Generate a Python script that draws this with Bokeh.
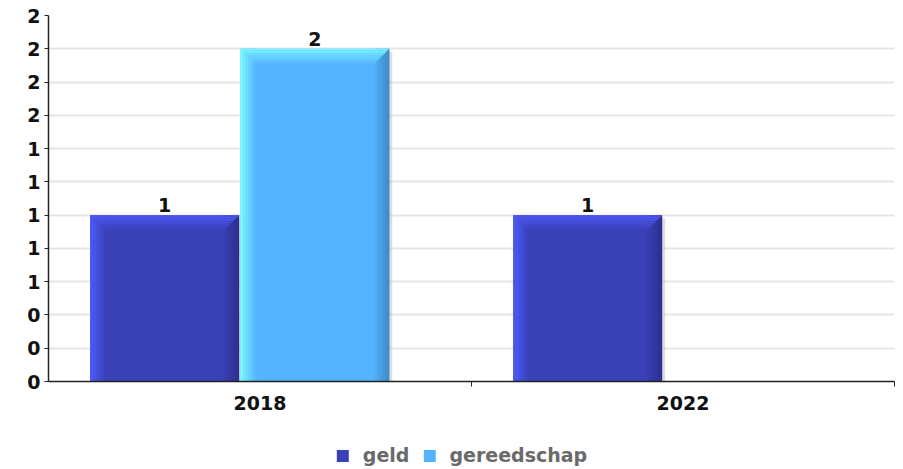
from bokeh.plotting import figure
from bokeh.layouts import column
from bokeh.models import (Range1d, FixedTicker, Legend, LegendItem, ColumnDataSource)
from bokeh.embed import file_html
from bokeh.resources import INLINE
from bokeh.core.properties import value

# ---- data ----
categories = ["2018", "2022"]
series = ["geld", "gereedschap"]
geld = [1, 1]
gereedschap = [2, 0]
y_ticks = [0, 0.2, 0.4, 0.6, 0.8, 1.0, 1.2, 1.4, 1.6, 1.8, 2.0, 2.2]
y_tick_labels = ["0", "0", "0", "1", "1", "1", "1", "1", "2", "2", "2", "2"]

values = {"geld": geld, "gereedschap": gereedschap}
main_col = {"geld": "#3a40b6", "gereedschap": "#55b4ff"}
left_col = {"geld": "#4e5eff", "gereedschap": "#80ffff"}
right_col = {"geld": "#2b2f88", "gereedschap": "#3b86bd"}
top_col = {"geld": "#4e58f6", "gereedschap": "#7af6ff"}
offsets = {"geld": -0.2254, "gereedschap": 0.1296}
bar_w = 0.352

W, H = 903, 421
BL, BR, BT, BB = 48, 9, 15, 40
YMAX = 2.2
px_x = 1.0 / (W - BL - BR) * len(categories)
px_y = YMAX / (H - BT - BB)

FONT = "DejaVu Sans"
FS = "19px"

p = figure(width=W, height=H, output_backend="svg", toolbar_location=None,
           x_range=Range1d(0, len(categories)), y_range=Range1d(0, YMAX),
           min_border_left=BL, min_border_right=BR, min_border_top=BT,
           min_border_bottom=BB)
p.outline_line_color = None
p.background_fill_color = "white"
p.border_fill_color = "white"


def hex2rgb(h):
    h = h.lstrip("#")
    return tuple(int(h[i:i + 2], 16) for i in (0, 2, 4))


def mix(a, b, t):
    ra, rb = hex2rgb(a), hex2rgb(b)
    return "#%02x%02x%02x" % tuple(int(round(x + (y - x) * t)) for x, y in zip(ra, rb))


STRIP = 16  # px
NS = 10
BEVEL = 16  # px
for s in series:
    for i, cat in enumerate(categories):
        v = values[s][i]
        if v <= 0:
            continue
        c = i + 0.5 + offsets[s]
        left = c - bar_w / 2
        right = c + bar_w / 2
        p.vbar(x=[c + 3 * px_x], width=bar_w, top=[v - 3 * px_y], bottom=0,
               fill_color="#bbbbbb", fill_alpha=0.5, line_color=None)
        p.vbar(x=[c], width=bar_w, top=[v], bottom=0,
               fill_color=main_col[s], line_color=None)
        sw = STRIP * px_x / NS
        for k in range(NS):
            t = (k + 0.5) / NS
            p.vbar(x=[left + (k + 0.5) * sw], width=sw * 1.05, top=[v], bottom=0,
                   fill_color=mix(left_col[s], main_col[s], t), line_color=None)
            p.vbar(x=[right - STRIP * px_x + (k + 0.5) * sw], width=sw * 1.05,
                   top=[v], bottom=0,
                   fill_color=mix(main_col[s], right_col[s], t), line_color=None)
        NB = 10
        bh = BEVEL / NB
        for k in range(NB):
            d0 = k * bh
            d1 = (k + 1) * bh
            xs = [left + d0 * px_x, right - d0 * px_x, right - d1 * px_x, left + d1 * px_x]
            ys = [v - d0 * px_y, v - d0 * px_y, v - d1 * px_y, v - d1 * px_y]
            p.patch(xs, ys, fill_color=mix(top_col[s], main_col[s], (k + 0.5) / NB),
                    line_color=None)
        p.text(x=[c], y=[v], text=[str(v)], text_align="center",
               text_baseline="bottom", y_offset=-3,
               text_font=value(FONT), text_font_style="bold",
               text_font_size=FS, text_color="#111111")

p.xaxis.ticker = FixedTicker(ticks=[i + 0.5 for i in range(len(categories))],
                             minor_ticks=[i + 1 for i in range(len(categories))])
p.xaxis.major_label_overrides = {i + 0.5: c for i, c in enumerate(categories)}
p.xaxis.major_tick_out = 0
p.xaxis.major_tick_in = 0
p.xaxis.minor_tick_out = 5
p.xaxis.minor_tick_in = 0
p.xaxis.minor_tick_line_color = "#222222"
p.xaxis.major_label_standoff = 9

p.yaxis.ticker = FixedTicker(ticks=y_ticks)
p.yaxis.major_label_overrides = {t: l for t, l in zip(y_ticks, y_tick_labels)}
p.yaxis.major_tick_out = 4
p.yaxis.major_tick_in = 0
p.yaxis.minor_tick_line_color = None
p.yaxis.major_label_standoff = 4

for ax in (p.xaxis, p.yaxis):
    ax.axis_line_color = "#222222"
    ax.axis_line_width = 1.5
    ax.major_tick_line_color = "#222222"
    ax.major_label_text_font = FONT
    ax.major_label_text_font_style = "bold"
    ax.major_label_text_font_size = FS
    ax.major_label_text_color = "#111111"

p.xgrid.grid_line_color = None
p.ygrid.grid_line_color = "#e6e6e6"
p.ygrid.grid_line_width = 2

# ---- legend row ----
lg = figure(width=W - 20, height=48, output_backend="svg", toolbar_location=None,
            x_range=Range1d(0, 1), y_range=Range1d(0, 1),
            min_border_left=0, min_border_right=0,
            min_border_top=0, min_border_bottom=0)
lg.axis.visible = False
lg.grid.visible = False
lg.outline_line_color = None
lg.border_fill_color = "white"
items = []
for s in series:
    # legend swatch renderer, kept outside the visible range of this row
    r = lg.vbar(x="x", top="top", width=0.1,
                source=ColumnDataSource(dict(x=[-5], top=[-5])),
                fill_color=main_col[s], line_color=None)
    items.append(LegendItem(label=s, renderers=[r]))
legend = Legend(items=items, orientation="horizontal", location="top_center",
                glyph_width=15, glyph_height=15,
                label_text_font=FONT, label_text_font_style="bold",
                label_text_font_size=FS, label_text_color="#6a6a6a",
                border_line_color=None, background_fill_alpha=0,
                spacing=12, label_standoff=13, padding=0, margin=23)
lg.add_layout(legend)

open("out.html", "w").write(file_html(column(p, lg, spacing=0), INLINE))
